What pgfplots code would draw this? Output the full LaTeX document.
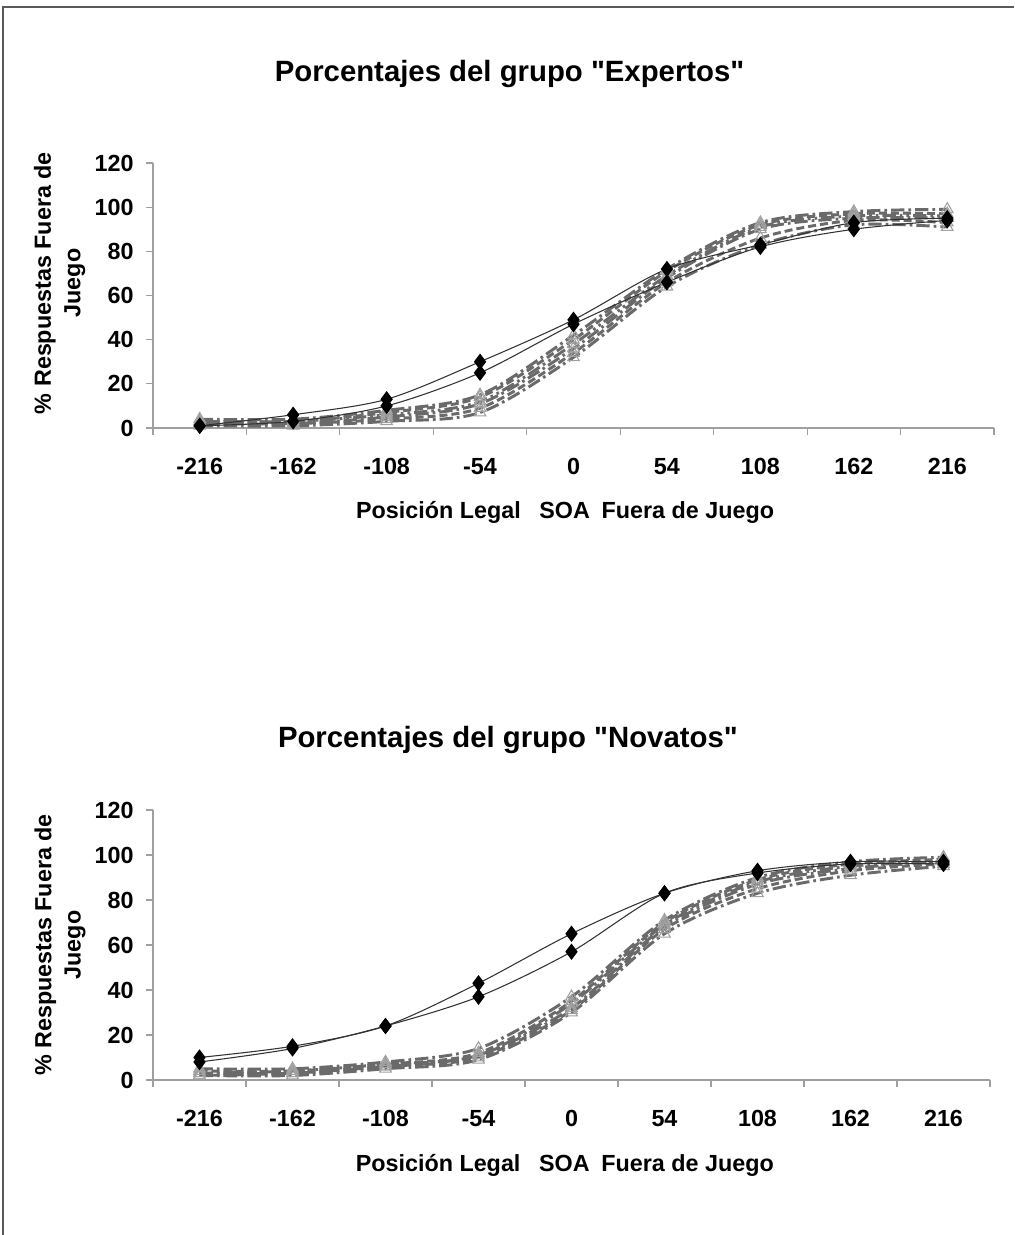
\documentclass[border=0pt]{standalone}
\usepackage{fontspec}
\setmainfont{Liberation Sans}
\usepackage{pgfplots}
\usepackage{pgfplotstable}
\pgfplotsset{compat=1.18}
\definecolor{lg}{HTML}{6A6A6A}
\definecolor{tri}{HTML}{A0A0A0}

\pgfplotstableread{
x a b g1 g2 g3 g4 g5 g6
0 1 1 4 3 3 2 2 1
1 6 3 4 3 3 2 2 1
2 13 10 8 7 6 5 4 3
3 30 25 15 14 12 11 9 7
4 49 47 42 40 38 36 34 32
5 72 66 72 71 69 68 66 64
6 83 82 93 92 91 90 86 83
7 93 90 98 97 96 95 94 92
8 95 94 99 97 96 95 93 91
}\expertos

\pgfplotstableread{
x a b g1 g2 g3 g4 g5 g6
0 10 8 5 4 3 3 2 2
1 15 14 5 4 4 3 3 2
2 24 24 8 7 7 6 6 5
3 43 37 14 12 11 11 10 9
4 65 57 37 35 34 32 31 30
5 83 83 71 70 69 68 67 65
6 93 92 90 89 88 87 85 83
7 97 96 97 96 95 94 93 91
8 97 96 99 98 97 97 96 95
}\novatos

\pgfplotsset{
  myax/.style={
    scale only axis,
    xmin=-0.5, xmax=8.5, ymin=0, ymax=120,
    clip=false,
    axis x line*=bottom, axis y line*=left,
    axis line style={draw=gray!75, line width=0.8pt, -},
    xtick={0,...,8},
    xticklabels={-216,-162,-108,-54,0,54,108,162,216},
    xtick style={draw=none},
    extra x ticks={-0.5,0.5,...,8.5},
    extra x tick labels={},
    extra x tick style={xtick style={draw=gray!75, line width=0.8pt}},
    ytick={0,20,...,120},
    ytick style={draw=gray!75, line width=0.8pt},
    tick align=outside,
    major tick length=5pt,
    /pgf/number format/assume math mode=true,
    ticklabel style={font=\bfseries\fontsize{17.5}{20}\selectfont},
    xticklabel style={anchor=base, yshift=-30pt},
    yticklabel style={anchor=east, xshift=-6pt},
    title style={font=\bfseries\fontsize{22}{26}\selectfont, anchor=center},
    x label style={font=\bfseries\fontsize{17.5}{20}\selectfont, anchor=center},
    y label style={font=\bfseries\fontsize{17.5}{22}\selectfont, anchor=center, align=center},
  },
  gs/.style={color=lg, line width=2.2pt, smooth, tension=0.5,
    mark=triangle, mark size=5pt,
    mark options={solid, draw=tri, line width=0.8pt, fill=none}},
  p1/.style={dash pattern=on 10pt off 3pt on 2pt off 3pt},
  p2/.style={dash pattern=on 6pt off 3pt},
  p3/.style={dash pattern=on 10pt off 3pt on 2pt off 3pt on 2pt off 3pt},
  bs/.style={color=black!80, line width=0.8pt, smooth, tension=0.5,
    mark=diamond*, mark size=5.5pt,
    mark options={solid, fill=black, draw=black}},
}

\begin{document}
\begin{tikzpicture}[x=0.75pt,y=0.75pt]
\useasboundingbox (0,0) rectangle (1014,1235);
\draw[gray!70!black, line width=1pt] (3,0) -- (3,1228) -- (1014,1228);
\coordinate (A1) at (153,807);
\coordinate (A2) at (153,155);

\begin{axis}[myax,
  at={(A1)}, anchor=south west,
  width=630.75pt, height=198.75pt,
  title={Porcentajes del grupo \textquotedbl Expertos\textquotedbl},
  title style={at={(axis description cs:0.424,1.306)}},
  xlabel={Posición Legal\hspace{0.8em}SOA\hspace{0.5em}Fuera de Juego},
  x label style={at={(axis description cs:0.49,-0.317)}},
  ylabel={\% Respuestas Fuera de\\Juego},
  y label style={at={(axis description cs:-0.111,0.547)}},
]
\addplot[gs,p1] table[x=x,y=g1]{\expertos};
\addplot[gs,p2] table[x=x,y=g2]{\expertos};
\addplot[gs,p3] table[x=x,y=g3]{\expertos};
\addplot[gs,p1] table[x=x,y=g4]{\expertos};
\addplot[gs,p2] table[x=x,y=g5]{\expertos};
\addplot[gs,p1] table[x=x,y=g6]{\expertos};
\addplot[bs] table[x=x,y=a]{\expertos};
\addplot[bs] table[x=x,y=b]{\expertos};
\end{axis}

\begin{axis}[myax,
  at={(A2)}, anchor=south west,
  width=627.75pt, height=202.5pt,
  title={Porcentajes del grupo \textquotedbl Novatos\textquotedbl},
  title style={at={(axis description cs:0.424,1.2296)}},
  xlabel={Posición Legal\hspace{0.8em}SOA\hspace{0.5em}Fuera de Juego},
  x label style={at={(axis description cs:0.492,-0.315)}},
  ylabel={\% Respuestas Fuera de\\Juego},
  y label style={at={(axis description cs:-0.111,0.5)}},
]
\addplot[gs,p1] table[x=x,y=g1]{\novatos};
\addplot[gs,p2] table[x=x,y=g2]{\novatos};
\addplot[gs,p3] table[x=x,y=g3]{\novatos};
\addplot[gs,p1] table[x=x,y=g4]{\novatos};
\addplot[gs,p2] table[x=x,y=g5]{\novatos};
\addplot[gs,p1] table[x=x,y=g6]{\novatos};
\addplot[bs] table[x=x,y=a]{\novatos};
\addplot[bs] table[x=x,y=b]{\novatos};
\end{axis}
\end{tikzpicture}
\end{document}
